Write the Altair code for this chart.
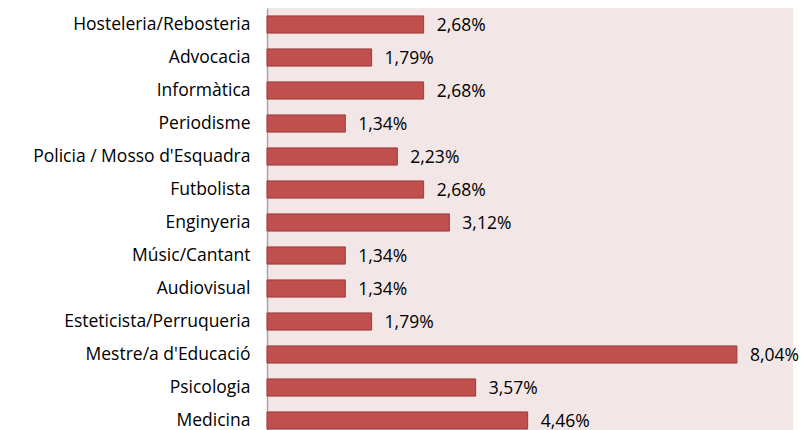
import altair as alt
import pandas as pd

categories = ["Hosteleria/Rebosteria", "Advocacia", "Informàtica", "Periodisme",
              "Policia / Mosso d'Esquadra", "Futbolista", "Enginyeria ", "Músic/Cantant",
              "Audiovisual", "Esteticista/Perruqueria", "Mestre/a d'Educació", "Psicologia", "Medicina"]
values = [2.68, 1.79, 2.68, 1.34, 2.23, 2.68, 3.12, 1.34, 1.34, 1.79, 8.04, 3.57, 4.46]
labels = ["2,68%", "1,79%", "2,68%", "1,34%", "2,23%", "2,68%", "3,12%", "1,34%",
          "1,34%", "1,79%", "8,04%", "3,57%", "4,46%"]

df = pd.DataFrame({"cat": categories, "val": values, "lab": labels})

FONT = "Open Sans"

y = alt.Y("cat:N", sort=None, title=None,
          scale=alt.Scale(paddingInner=0.48, paddingOuter=0.24),
          axis=alt.Axis(domain=True, domainColor="#A6A6A6", domainWidth=1.5, ticks=False,
                        labelFont=FONT, labelFontSize=17.5, labelColor="#000000",
                        labelPadding=17, labelLimit=300))
x = alt.X("val:Q", scale=alt.Scale(domain=[0, 9], nice=False), axis=None, title=None)

bars = alt.Chart(df).mark_bar(color="#C0504D", stroke="#9B3B39", strokeWidth=1).encode(x=x, y=y)
text = alt.Chart(df).mark_text(align="left", baseline="middle", dx=13, dy=1,
                               font=FONT, fontSize=17.5, color="#000000").encode(
    x=x, y=alt.Y("cat:N", sort=None), text="lab:N")

chart = (bars + text).properties(
    width=526, height=429,
    autosize=alt.AutoSizeParams(type="none"),
    padding={"left": 259, "top": 0, "right": 7, "bottom": 0},
).configure_view(fill="#F2E6E6", stroke=None)

chart.save("out.html", embed_options={"renderer": "svg", "actions": False})
